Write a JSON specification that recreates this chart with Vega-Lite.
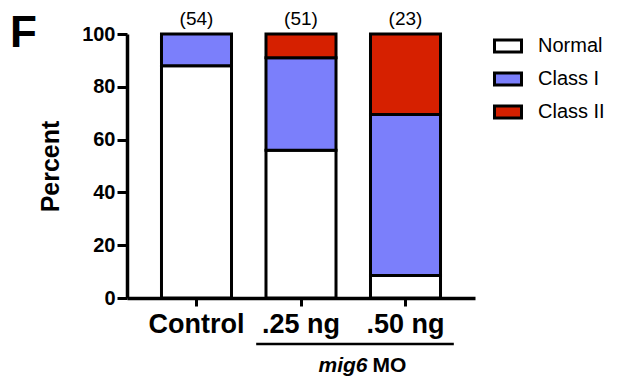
{
  "$schema": "https://vega.github.io/schema/vega-lite/v6.json",
  "width": 348,
  "height": 264,
  "autosize": {"type": "none"},
  "padding": {"left": 127, "top": 34, "right": 143, "bottom": 83},
  "background": "white",
  "config": {"view": {"stroke": null}, "font": "Liberation Sans"},
  "title": {"text": "F", "anchor": "start", "frame": "group", "orient": "top", "fontSize": 44, "fontWeight": "bold", "color": "black", "baseline": "top", "offset": 0, "dx": -117, "dy": 46},
  "datasets": {
    "pct": [
      {"dose": "Control", "outcome": "Normal", "percent": 88},
      {"dose": "Control", "outcome": "Class I", "percent": 12},
      {"dose": ".25 ng", "outcome": "Normal", "percent": 56},
      {"dose": ".25 ng", "outcome": "Class I", "percent": 35},
      {"dose": ".25 ng", "outcome": "Class II", "percent": 9},
      {"dose": ".50 ng", "outcome": "Normal", "percent": 8.5},
      {"dose": ".50 ng", "outcome": "Class I", "percent": 61},
      {"dose": ".50 ng", "outcome": "Class II", "percent": 30.5}
    ],
    "counts": [
      {"dose": "Control", "label": "(54)"},
      {"dose": ".25 ng", "label": "(51)"},
      {"dose": ".50 ng", "label": "(23)"}
    ],
    "group": [
      {"from": ".25 ng", "to": ".50 ng", "gene": "mig6", "reagent": "MO"}
    ]
  },
  "layer": [
    {
      "data": {"name": "pct"},
      "transform": [
        {"calculate": "indexof(['Normal', 'Class I', 'Class II'], datum.outcome)", "as": "stackOrder"}
      ],
      "mark": {"type": "bar", "stroke": "black", "strokeWidth": 3},
      "encoding": {
        "x": {
          "field": "dose", "type": "nominal", "sort": ["Control", ".25 ng", ".50 ng"],
          "scale": {"domain": ["Control", ".25 ng", ".50 ng"], "paddingInner": 0.33, "paddingOuter": 0.33},
          "axis": {"title": null, "labelAngle": 0, "domainWidth": 3.5, "domainColor": "black", "tickColor": "black", "tickWidth": 3, "tickSize": 8, "labelFontSize": 27, "labelFontWeight": "bold", "labelColor": "black", "labelPadding": 5}
        },
        "y": {
          "field": "percent", "type": "quantitative", "stack": "zero",
          "scale": {"domain": [0, 100]},
          "axis": {"title": "Percent", "values": [0, 20, 40, 60, 80, 100], "grid": false, "domainWidth": 3.5, "domainColor": "black", "tickColor": "black", "tickWidth": 3, "tickSize": 10, "labelFontSize": 20, "labelFontWeight": "bold", "labelColor": "black", "labelPadding": 2, "titleFontSize": 25, "titleFontWeight": "bold", "titleColor": "black", "titlePadding": 18}
        },
        "order": {"field": "stackOrder", "type": "quantitative", "sort": "ascending"},
        "color": {
          "field": "outcome", "type": "nominal", "sort": ["Normal", "Class I", "Class II"],
          "scale": {"domain": ["Normal", "Class I", "Class II"], "range": ["#FFFFFF", "#7B7FFB", "#D62000"]},
          "legend": {"orient": "none", "legendX": 371, "legendY": 2, "title": null, "padding": 0, "symbolType": "M-2.25,-1H2.25V1H-2.25Z", "symbolSize": 144, "symbolStrokeColor": "black", "symbolStrokeWidth": 3, "labelFontSize": 20, "labelColor": "black", "labelOffset": 20, "rowPadding": 9}
        }
      }
    },
    {
      "data": {"name": "counts"},
      "mark": {"type": "text", "fontSize": 19, "color": "black", "baseline": "alphabetic", "dy": -9},
      "encoding": {
        "x": {"field": "dose", "type": "nominal"},
        "y": {"datum": 100, "type": "quantitative"},
        "text": {"field": "label"}
      }
    },
    {
      "data": {"name": "group"},
      "mark": {"type": "rule", "strokeWidth": 2.5, "color": "black"},
      "encoding": {
        "x": {"field": "from", "type": "nominal", "bandPosition": -0.14},
        "x2": {"field": "to", "bandPosition": 1.19},
        "y": {"datum": -17.4, "type": "quantitative"}
      }
    },
    {
      "data": {"name": "group"},
      "mark": {"type": "text", "fontSize": 21, "fontWeight": "bold", "fontStyle": "italic", "color": "black", "align": "right", "baseline": "alphabetic", "dx": -3},
      "encoding": {
        "x": {"field": "to", "type": "nominal", "bandPosition": 0},
        "y": {"datum": -28, "type": "quantitative"},
        "text": {"field": "gene"}
      }
    },
    {
      "data": {"name": "group"},
      "mark": {"type": "text", "fontSize": 21, "fontWeight": "bold", "color": "black", "align": "left", "baseline": "alphabetic", "dx": 2},
      "encoding": {
        "x": {"field": "to", "type": "nominal", "bandPosition": 0},
        "y": {"datum": -28, "type": "quantitative"},
        "text": {"field": "reagent"}
      }
    }
  ]
}
